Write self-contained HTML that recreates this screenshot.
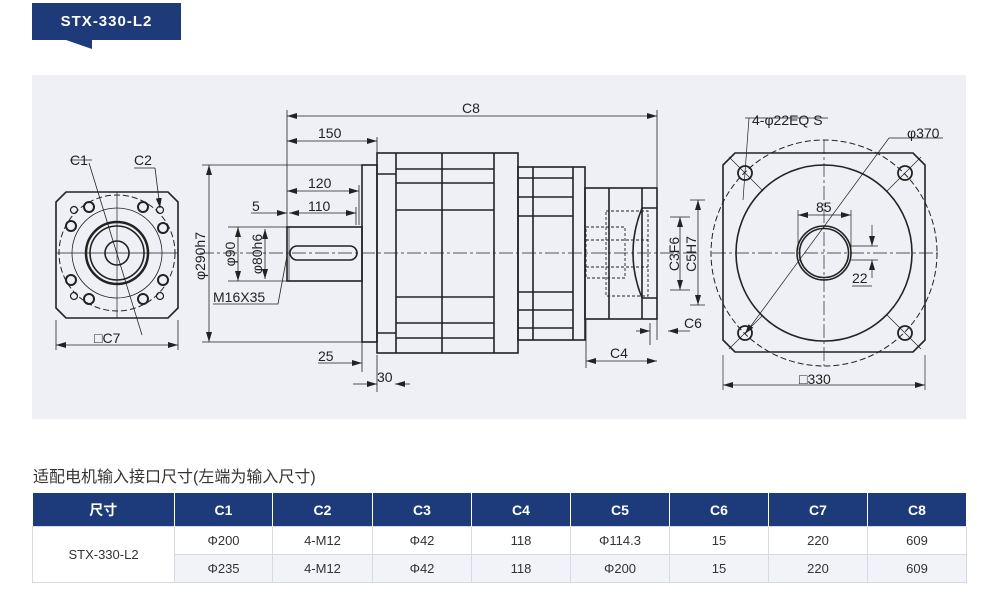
<!DOCTYPE html>
<html><head><meta charset="utf-8"><style>
body{margin:0;width:1000px;height:590px;background:#fff;overflow:hidden;font-family:"Liberation Sans","Noto Sans CJK SC",sans-serif;}
.abs{position:absolute}
table{border-collapse:collapse;position:absolute;left:32px;top:493px;width:934px;font-size:13px;color:#333;table-layout:fixed}
th{background:#1d3a7a;color:#fff;height:33px;padding:0;font-weight:bold;border-right:1px solid #fff;font-size:14px}
td{text-align:center;height:27px;padding:0;line-height:26px;border:1px solid #d6d9e0}
tr.g td{background:#f1f3f8}
</style></head><body>
<div class="abs" style="left:32px;top:3px;width:149px;height:37px;background:#1f3a78;color:#fff;font-weight:bold;font-size:15px;letter-spacing:1px;line-height:37px;text-align:center">STX-330-L2</div>
<svg class="abs" style="left:0;top:0" width="1000" height="590">
<defs><marker id="a" viewBox="0 0 10 6" refX="10" refY="3" markerWidth="10" markerHeight="6" orient="auto-start-reverse" markerUnits="userSpaceOnUse"><path d="M0 0L10 3L0 6z" fill="#222"/></marker></defs>
<polygon points="66,40 92,40 92,49" fill="#1f3a78"/>
<rect x="32" y="75" width="934" height="344" fill="#eef0f5"/>
<g fill="none" stroke="#222" stroke-width="1.6">
<!-- left view -->
<polygon points="66,192 168,192 178,202 178,308 168,318 66,318 56,308 56,202"/>
<circle cx="117" cy="253" r="58" stroke-dasharray="6,3" stroke-width="1"/>
<circle cx="117" cy="253" r="45" stroke-width="0.8"/>
<circle cx="117" cy="253" r="31" stroke-width="2.5"/>
<circle cx="117" cy="253" r="27"/>
<circle cx="117" cy="253" r="12"/>
<line x1="117" y1="192" x2="117" y2="318" stroke-width="0.7"/><line x1="56" y1="253" x2="178" y2="253" stroke-width="0.7"/>
<g stroke-width="2"><circle cx="89" cy="207" r="5"/><circle cx="71" cy="226" r="5"/><circle cx="143" cy="207" r="5"/><circle cx="163" cy="228" r="5"/><circle cx="71" cy="280" r="5"/><circle cx="89" cy="299" r="5"/><circle cx="143" cy="299" r="5"/><circle cx="163" cy="280" r="5"/></g>
<g stroke-width="1.2"><circle cx="74" cy="210" r="3.5"/><circle cx="160" cy="210" r="3.5"/><circle cx="74" cy="296" r="3.5"/><circle cx="160" cy="296" r="3.5"/></g>
<line x1="70" y1="160" x2="92" y2="160" stroke-width="0.8"/><line x1="89" y1="163" x2="142" y2="335" stroke-width="0.8"/>
<line x1="134" y1="168" x2="155" y2="168" stroke-width="0.8"/><line x1="155" y1="168" x2="160" y2="208" stroke-width="0.8" marker-end="url(#a)"/>
<line x1="56" y1="320" x2="56" y2="350" stroke-width="0.8"/><line x1="178" y1="320" x2="178" y2="350" stroke-width="0.8"/>
<line x1="56" y1="345" x2="178" y2="345" stroke-width="0.8" marker-start="url(#a)" marker-end="url(#a)"/>
<!-- side view -->
<rect x="362" y="165" width="15" height="177"/>
<rect x="377" y="153" width="141" height="200"/>
<path d="M396 153V353M442 153V353M494 153V353M377 174H396M377 333H396M396 169H494M396 183H494M396 210H494M396 297H494M396 323H494M396 338H494" />
<rect x="518" y="167" width="67" height="173"/>
<path d="M533 167V340M573 167V340M518 178H573M518 197H573M518 216H573M518 292H573M518 310H573M518 328H573"/>
<rect x="585" y="188" width="72" height="131"/>
<path d="M609 188V319M642 188V319M642 208H657M642 298H657M642 208Q624 253 642 298"/>
<g stroke-dasharray="3,2" stroke-width="0.9"><rect x="606" y="211" width="42" height="85"/><rect x="586" y="227" width="39" height="51"/><path d="M586 240H648M586 267H648"/></g>
<rect x="287" y="227" width="75" height="54"/>
<rect x="290" y="246" width="67" height="14" rx="7"/>
<line x1="289" y1="227" x2="289" y2="281" stroke-width="0.7"/>
<line x1="200" y1="253" x2="700" y2="253" stroke-width="0.7" stroke-dasharray="14,3,3,3"/>
<g stroke-width="0.8">
<path d="M287 110V250M657 110V340M377 137V160M359 185V225M356 207V225"/>
<line x1="287" y1="116" x2="657" y2="116" marker-start="url(#a)" marker-end="url(#a)"/>
<line x1="287" y1="141" x2="377" y2="141" marker-start="url(#a)" marker-end="url(#a)"/>
<line x1="287" y1="191" x2="359" y2="191" marker-start="url(#a)" marker-end="url(#a)"/>
<line x1="289" y1="213" x2="356" y2="213" marker-start="url(#a)" marker-end="url(#a)"/>
<line x1="251" y1="213" x2="287" y2="213" marker-end="url(#a)"/>
<path d="M202 165H362M202 342H362M228 227H290M228 281H290"/>
<line x1="209" y1="165" x2="209" y2="342" marker-start="url(#a)" marker-end="url(#a)"/>
<line x1="238" y1="227" x2="238" y2="281" marker-start="url(#a)" marker-end="url(#a)"/>
<line x1="265" y1="229" x2="265" y2="279" marker-start="url(#a)" marker-end="url(#a)"/>
<path d="M213 304H278L287 256M362 342V372M377 355V392"/>
<line x1="318" y1="363" x2="362" y2="363" marker-end="url(#a)"/>
<line x1="353" y1="384" x2="377" y2="384" marker-end="url(#a)"/>
<line x1="410" y1="384" x2="395" y2="384" marker-end="url(#a)"/>
<path d="M586 320V368M650 323V345M670 217H690M670 290H690M690 200H705M690 305H705"/>
<line x1="586" y1="361" x2="657" y2="361" marker-start="url(#a)" marker-end="url(#a)"/>
<line x1="636" y1="331" x2="650" y2="331" marker-end="url(#a)"/>
<line x1="690" y1="331" x2="668" y2="331" marker-end="url(#a)"/>
<line x1="680" y1="217" x2="680" y2="290" marker-start="url(#a)" marker-end="url(#a)"/>
<line x1="698" y1="200" x2="698" y2="305" marker-start="url(#a)" marker-end="url(#a)"/>
</g>
<!-- right view -->
<polygon points="735,153 913,153 925,165 925,340 913,352 735,352 723,340 723,165"/>
<circle cx="824" cy="253" r="113" stroke-dasharray="6,3" stroke-width="1"/>
<circle cx="824" cy="253" r="88"/>
<circle cx="824" cy="253" r="27"/><circle cx="824" cy="253" r="24.5"/>
<g stroke-width="1.8"><circle cx="745" cy="173" r="7"/><circle cx="905" cy="173" r="7"/><circle cx="745" cy="333" r="7"/><circle cx="905" cy="333" r="7"/></g>
<g stroke-width="0.7"><path d="M729 157L763 191M921 157L887 191M729 349L763 315M921 349L887 315"/>
<path d="M712 253H938M824 140V366" stroke-dasharray="14,3,3,3"/>
<path d="M745 118H828M749 118L743 200M889 138H943M798 210V250M851 210V250M851 246H878M851 260H878M852 286H872M723 355V390M925 355V390"/>
<line x1="889" y1="138" x2="745" y2="334" marker-end="url(#a)"/>
<line x1="798" y1="215" x2="851" y2="215" marker-start="url(#a)" marker-end="url(#a)"/>
<line x1="872" y1="225" x2="872" y2="246" marker-end="url(#a)"/>
<line x1="872" y1="278" x2="872" y2="260" marker-end="url(#a)"/>
<line x1="723" y1="385" x2="925" y2="385" marker-start="url(#a)" marker-end="url(#a)"/></g>
</g>
<g fill="#222" font-family="Liberation Sans,sans-serif" font-size="14">
<text x="70" y="165">C1</text><text x="134" y="165">C2</text><text x="94" y="343">□C7</text>
<text x="462" y="113">C8</text><text x="318" y="138">150</text><text x="308" y="188">120</text><text x="308" y="211">110</text><text x="252" y="211">5</text>
<text x="213" y="302">M16X35</text><text x="318" y="361">25</text><text x="377" y="382">30</text><text x="610" y="358">C4</text><text x="684" y="328">C6</text>
<text transform="translate(205,256) rotate(-90)" text-anchor="middle">φ290h7</text>
<text transform="translate(235,254) rotate(-90)" text-anchor="middle">φ90</text>
<text transform="translate(262,254) rotate(-90)" text-anchor="middle">φ80h6</text>
<text transform="translate(679,254) rotate(-90)" text-anchor="middle">C3F6</text>
<text transform="translate(696,254) rotate(-90)" text-anchor="middle">C5H7</text>
<text x="752" y="125">4-φ22EQ S</text><text x="907" y="138">φ370</text><text x="816" y="212">85</text><text x="852" y="283">22</text><text x="799" y="384">□330</text>
</g>
<text x="33" y="482" font-size="16" fill="#333" font-family="Liberation Sans,Noto Sans CJK SC,sans-serif">适配电机输入接口尺寸(左端为输入尺寸)</text>
</svg>
<table>
<colgroup><col style="width:142px"><col style="width:98px"><col style="width:100px"><col style="width:99px"><col style="width:99px"><col style="width:99px"><col style="width:99px"><col style="width:99px"><col style="width:99px"></colgroup>
<tr><th>尺寸</th><th>C1</th><th>C2</th><th>C3</th><th>C4</th><th>C5</th><th>C6</th><th>C7</th><th>C8</th></tr>
<tr><td rowspan="2">STX-330-L2</td><td>Φ200</td><td>4-M12</td><td>Φ42</td><td>118</td><td>Φ114.3</td><td>15</td><td>220</td><td>609</td></tr>
<tr class="g"><td>Φ235</td><td>4-M12</td><td>Φ42</td><td>118</td><td>Φ200</td><td>15</td><td>220</td><td>609</td></tr>
</table>
</body></html>
